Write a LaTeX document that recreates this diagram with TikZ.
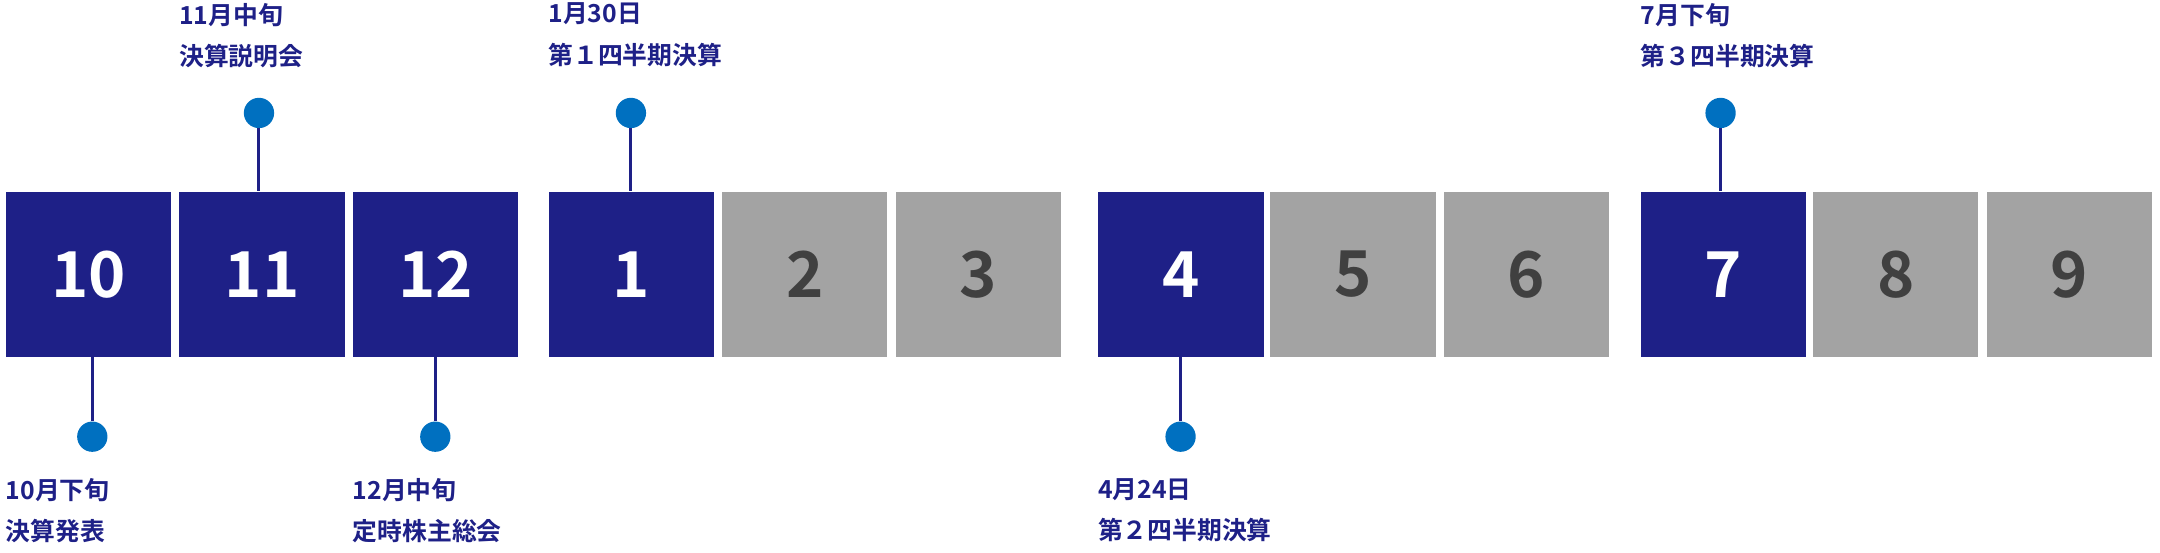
\documentclass[tikz,border=0pt]{standalone}
\usepackage{fontspec}
\setmainfont{Noto Sans CJK JP}[BoldFont={* Bold}]
\definecolor{navy}{HTML}{1E2087}
\definecolor{gbox}{HTML}{A3A3A3}
\definecolor{dotc}{HTML}{0070C0}
\definecolor{dnum}{HTML}{404040}
\begin{document}
\begin{tikzpicture}[x=1pt,y=-1pt,
  mbox/.style={minimum width=120pt,minimum height=120pt,inner sep=0pt,anchor=north west,font=\fontsize{46}{46}\selectfont\bfseries},
  act/.style={mbox,fill=navy,text=white},
  ina/.style={mbox,fill=gbox,text=dnum},
  dot/.style={circle,fill=dotc,minimum size=22pt,inner sep=0pt},
  lab/.style={anchor=north west,inner sep=0pt,align=left,text=navy,font=\fontsize{18}{30}\selectfont\bfseries},
  conn/.style={navy,line width=2.2pt}]
\useasboundingbox (0,0) rectangle (1568,401);
\node[act] (m10) at (4,139) {10};
\node[act] (m11) at (130,139) {11};
\node[act] (m12) at (256,139) {12};
\node[act] (m1) at (398,139) {1};
\node[ina] (m2) at (524,139) {2};
\node[ina] (m3) at (650,139) {3};
\node[act] (m4) at (797,139) {4};
\node[ina] (m5) at (922,139) {5};
\node[ina] (m6) at (1048,139) {6};
\node[act] (m7) at (1191,139) {7};
\node[ina] (m8) at (1316,139) {8};
\node[ina] (m9) at (1442,139) {9};
% dots
\node[dot] (d11) at (188,82) {};
\node[dot] (d1) at (458,82) {};
\node[dot] (d7) at (1249,82) {};
\node[dot] (d10) at (67,317) {};
\node[dot] (d12) at (316,317) {};
\node[dot] (d4) at (857,317) {};
\draw[conn] (d11) -- (d11 |- m11.north);
\draw[conn] (d1) -- (d1 |- m1.north);
\draw[conn] (d7) -- (d7 |- m7.north);
\draw[conn] (d10) -- (d10 |- m10.south);
\draw[conn] (d12) -- (d12 |- m12.south);
\draw[conn] (d4) -- (d4 |- m4.south);
% labels
\node[lab] (t11) at (130,2) {11月中旬\\決算説明会};
\node[lab] (t1) at (398,2) {1月30日\\第１四半期決算};
\node[lab] (t7) at (1191,2) {7月下旬\\第３四半期決算};
\node[lab] (t10) at (4,347) {10月下旬\\決算発表};
\node[lab] (t12) at (256,347) {12月中旬\\定時株主総会};
\node[lab] (t4) at (797,347) {4月24日\\第２四半期決算};
\end{tikzpicture}
\end{document}
